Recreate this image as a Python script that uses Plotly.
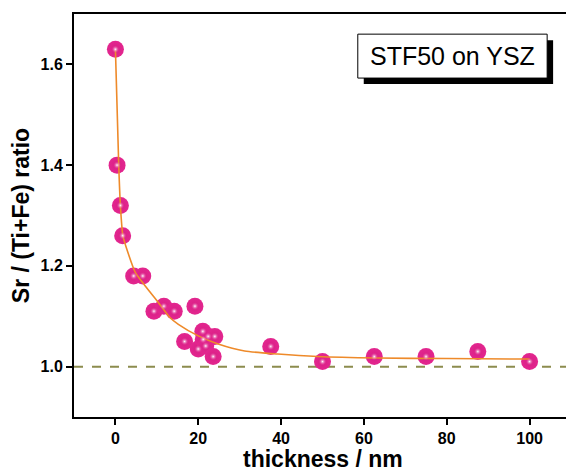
import plotly.graph_objects as go

# measured data
thickness = [0, 0.4, 1.2, 1.75, 4.4, 6.6, 9.3, 11.7, 14.2, 16.7, 19.2, 20.0, 21.1,
             21.2, 21.8, 22.4, 23.6, 24.0, 37.5, 50, 62.5, 75, 87.5, 100]
ratio = [1.63, 1.40, 1.32, 1.26, 1.18, 1.18, 1.11, 1.12, 1.11, 1.05, 1.12, 1.035, 1.07,
         1.054, 1.041, 1.06, 1.02, 1.06, 1.04, 1.01, 1.02, 1.02, 1.03, 1.01]

# fitted curve
fit_x = [0, 0.8, 1.2, 1.8, 3.0, 4.8, 7.2, 10.4, 13.2, 15.2, 20, 24.8, 31.2, 39.2,
         48.8, 63.2, 80, 100]
fit_y = [1.63, 1.40, 1.32, 1.26, 1.227, 1.187, 1.16, 1.127, 1.097, 1.084, 1.061,
         1.045, 1.031, 1.025, 1.020, 1.017, 1.016, 1.015]

ref_x = [-10, 110]
ref_y = [1.0, 1.0]

x_ticks = [0, 20, 40, 60, 80, 100]
y_ticks = [1.0, 1.2, 1.4, 1.6]

magenta = "#e3268f"
font_family = "Liberation Sans, Arial, sans-serif"

fig = go.Figure()
fig.add_trace(go.Scatter(x=ref_x, y=ref_y, mode="lines",
                         line=dict(color="#8c8c4e", width=2, dash="dash"),
                         hoverinfo="skip", showlegend=False))
fig.add_trace(go.Scatter(x=thickness, y=ratio, mode="markers",
                         marker=dict(size=17, color=magenta, line=dict(width=0),
                                     gradient=dict(type="radial", color="#d81f85")),
                         showlegend=False))
fig.add_trace(go.Scatter(x=fit_x, y=fit_y, mode="lines",
                         line=dict(color="#ee8a2a", width=1.6, shape="spline", smoothing=0.6),
                         hoverinfo="skip", showlegend=False))
fig.add_trace(go.Scatter(x=thickness, y=ratio, mode="markers",
                         marker=dict(size=8, color="rgba(227,38,143,0)", line=dict(width=0),
                                     gradient=dict(type="radial", color="#ffffff")),
                         hoverinfo="skip", showlegend=False))

fig.update_layout(
    width=566, height=463,
    margin=dict(l=66, r=1, t=6, b=54),
    paper_bgcolor="white", plot_bgcolor="white",
    font=dict(family=font_family, color="black"),
    xaxis=dict(range=[-10, 110], tickvals=x_ticks, ticks="outside", ticklen=6,
               tickwidth=2, tickcolor="black", showline=True, linewidth=2,
               linecolor="black", mirror=True, showgrid=False, zeroline=False,
               tickfont=dict(size=16, family=font_family, weight="bold")),
    yaxis=dict(range=[0.9, 1.7], tickvals=y_ticks, tickformat=".1f", ticks="outside",
               ticklen=6, tickwidth=2, tickcolor="black", showline=True, linewidth=2,
               linecolor="black", mirror=True, showgrid=False, zeroline=False,
               tickfont=dict(size=16, family=font_family, weight="bold"),
               title=dict(text="Sr / (Ti+Fe) ratio", standoff=8,
                          font=dict(size=23, family=font_family, weight="bold"))),
    shapes=[
        dict(type="rect", xref="paper", yref="paper", x0=0.583, x1=0.964, y0=0.826,
             y1=0.935, fillcolor="black", line=dict(width=0), layer="above"),
        dict(type="rect", xref="paper", yref="paper", x0=0.571, x1=0.952, y0=0.841,
             y1=0.950, fillcolor="white", line=dict(color="black", width=1),
             layer="above"),
    ],
    annotations=[
        dict(text="STF50 on YSZ", xref="paper", yref="paper", x=0.7615, y=0.8955,
             xanchor="center", yanchor="middle", showarrow=False,
             font=dict(size=25, family=font_family, color="black")),
        dict(text="<b>thickness / nm</b>", xref="paper", yref="paper", x=0.5, y=0,
             xanchor="center", yanchor="middle", yshift=-42, showarrow=False,
             font=dict(size=23, family=font_family, color="black")),
    ],
)

fig.write_html("out.html")
